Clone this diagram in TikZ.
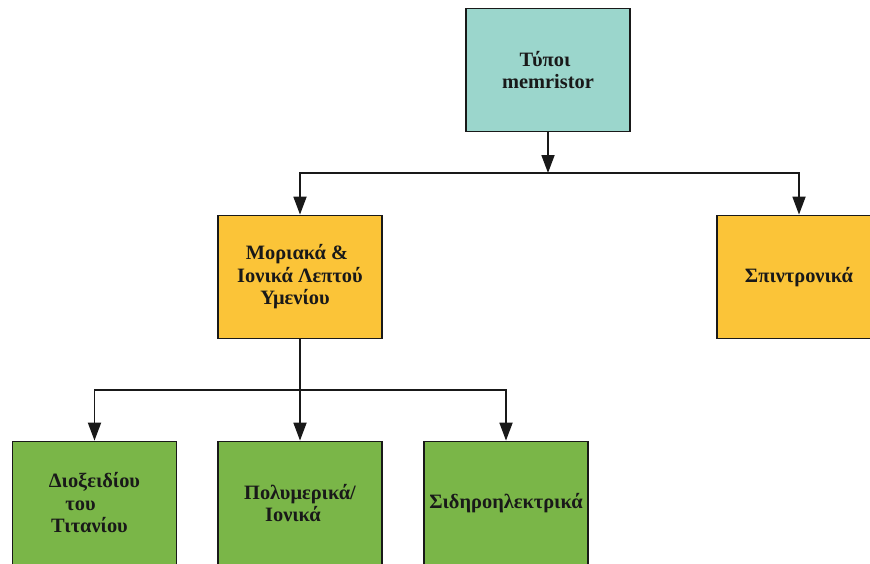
\documentclass[tikz,border=0pt]{standalone}
\usepackage{fontspec}
\setmainfont{Liberation Serif}
\usetikzlibrary{arrows.meta}
\definecolor{teal1}{RGB}{155,214,204}
\definecolor{yell1}{RGB}{251,196,56}
\definecolor{gree1}{RGB}{122,182,72}
\definecolor{ink}{RGB}{25,25,25}
\tikzset{
  box/.style={draw=ink, line width=1.8pt, minimum width=164pt, minimum height=123pt,
    align=center, inner sep=2pt, font=\bfseries\fontsize{20.4}{22.5}\selectfont, text=ink},
  arr/.style={draw=ink, line width=1.8pt, -{Triangle[length=18pt,width=13pt]}},
  ln/.style={draw=ink, line width=1.8pt}
}
\begin{document}
\begin{tikzpicture}[x=1pt,y=-1pt]
\useasboundingbox (0,0) rectangle (870,563);
\node[box, fill=teal1] (t) at (548,70) {Τύποι\kern6pt\\memristor};
\node[box, fill=yell1] (ml) at (300,277) {Μοριακά \&\kern6pt\\Ιονικά Λεπτού\\Υμενίου\kern10pt};
\node[box, fill=yell1] (mr) at (799,277) {Σπιντρονικά};
\node[box, fill=gree1] (b1) at (94.5,503) {Διοξειδίου\\του\kern28pt\\Τιτανίου\kern10pt};
\node[box, fill=gree1] (b2) at (300,503) {Πολυμερικά/\\Ιονικά\kern14pt};
\node[box, fill=gree1] (b3) at (506,503) {\raisebox{5pt}{Σιδηροηλεκτρικά}};
\coordinate (j1) at (548,173);
\coordinate (j2) at (300,390);
\draw[arr] (t.south) -- (j1);
\draw[arr] (j1) -| (ml.north);
\draw[arr] (j1) -| (mr.north);
\draw[ln] (ml.south) -- (j2);
\draw[arr] (j2) -| (b1.north);
\draw[arr] (j2) -- (b2.north);
\draw[arr] (j2) -| (b3.north);
\end{tikzpicture}
\end{document}
